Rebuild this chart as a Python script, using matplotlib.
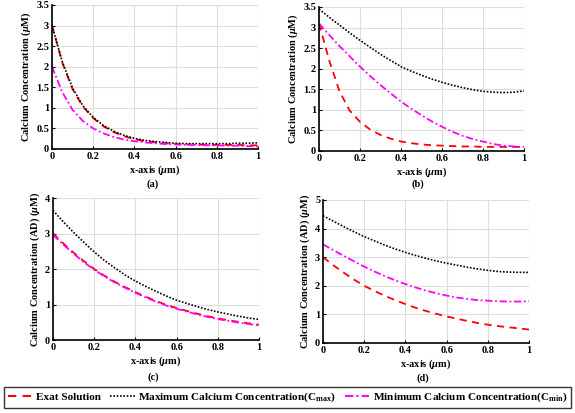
import matplotlib
matplotlib.use("Agg")
import matplotlib.pyplot as plt
from matplotlib.lines import Line2D

plt.rcParams['font.family'] = ['Liberation Serif', 'DejaVu Serif']
plt.rcParams['font.weight'] = 'bold'
plt.rcParams['mathtext.fontset'] = 'custom'
plt.rcParams['mathtext.rm'] = 'Liberation Serif:bold'
plt.rcParams['mathtext.it'] = 'Liberation Serif:italic:bold'
plt.rcParams['mathtext.bf'] = 'Liberation Serif:bold'

x = [0, .05, .1, .15, .2, .25, .3, .35, .4, .45, .5,
     .55, .6, .65, .7, .75, .8, .85, .9, .95, 1]

# panel (a)
a_exact = [3.00, 2.10, 1.45, 1.03, 0.75, 0.55, 0.41, 0.31, 0.24, 0.19, 0.16,
           0.14, 0.12, 0.11, 0.11, 0.10, 0.10, 0.10, 0.10, 0.09, 0.09]
a_max = [3.00, 2.12, 1.48, 1.05, 0.77, 0.57, 0.43, 0.33, 0.26, 0.21, 0.18,
         0.16, 0.14, 0.13, 0.13, 0.13, 0.13, 0.13, 0.14, 0.14, 0.15]
a_min = [2.00, 1.38, 0.95, 0.68, 0.50, 0.38, 0.29, 0.23, 0.19, 0.16, 0.14,
         0.12, 0.11, 0.10, 0.10, 0.09, 0.09, 0.08, 0.08, 0.07, 0.06]

# panel (b)
b_exact = [3.10, 2.20, 1.45, 0.98, 0.71, 0.52, 0.39, 0.30, 0.23, 0.19, 0.16,
           0.14, 0.13, 0.12, 0.11, 0.11, 0.10, 0.10, 0.10, 0.10, 0.10]
b_max = [3.45, 3.25, 3.06, 2.87, 2.69, 2.52, 2.35, 2.20, 2.05, 1.94, 1.84,
         1.75, 1.67, 1.60, 1.54, 1.49, 1.45, 1.43, 1.42, 1.43, 1.46]
b_min = [3.10, 2.82, 2.55, 2.30, 2.05, 1.82, 1.60, 1.40, 1.20, 1.03, 0.87,
         0.72, 0.59, 0.47, 0.37, 0.29, 0.23, 0.17, 0.13, 0.11, 0.10]

# panel (c)
c_exact = [3.00, 2.72, 2.46, 2.22, 2.00, 1.81, 1.64, 1.49, 1.35, 1.22, 1.10,
           0.99, 0.90, 0.82, 0.74, 0.67, 0.61, 0.56, 0.51, 0.47, 0.43]
c_max = [3.65, 3.33, 3.03, 2.75, 2.48, 2.24, 2.03, 1.83, 1.66, 1.51, 1.37,
         1.24, 1.12, 1.03, 0.94, 0.86, 0.79, 0.73, 0.67, 0.62, 0.58]
c_min = [2.96, 2.69, 2.43, 2.19, 1.98, 1.79, 1.62, 1.47, 1.33, 1.20, 1.08,
         0.97, 0.88, 0.80, 0.72, 0.65, 0.59, 0.54, 0.49, 0.45, 0.41]

# panel (d)
d_exact = [3.00, 2.72, 2.46, 2.22, 2.00, 1.82, 1.65, 1.50, 1.36, 1.23, 1.12,
           1.02, 0.93, 0.85, 0.77, 0.70, 0.64, 0.59, 0.55, 0.51, 0.47]
d_max = [4.45, 4.26, 4.07, 3.89, 3.72, 3.57, 3.42, 3.29, 3.17, 3.06, 2.96,
         2.87, 2.79, 2.72, 2.65, 2.59, 2.54, 2.50, 2.48, 2.47, 2.47]
d_min = [3.45, 3.25, 3.05, 2.86, 2.67, 2.50, 2.34, 2.19, 2.06, 1.94, 1.83,
         1.74, 1.66, 1.59, 1.54, 1.50, 1.48, 1.46, 1.45, 1.45, 1.46]

xticks = [0, 0.2, 0.4, 0.6, 0.8, 1]
xticklabels = ['0', '0.2', '0.4', '0.6', '0.8', '1']
ab_yticks = [0, 0.5, 1, 1.5, 2, 2.5, 3, 3.5]
ab_yticklabels = ['0', '0.5', '1', '1.5', '2', '2.5', '3', '3.5']
c_yticks = [0, 1, 2, 3, 4]
d_yticks = [0, 1, 2, 3, 4, 5]

ylab1 = r'Calcium Concentration ($\mu$M)'
ylab2 = r'Calcium Concentration (AD) ($\mu$M)'
xlab = r'x-axis ($\mu$m)'

labels = ['Exat Solution',
          r'Maximum Calcium Concentration(C$_{\mathrm{max}}$)',
          r'Minimum Calcium Concentration(C$_{\mathrm{min}}$)']

fig = plt.figure(figsize=(5.75, 4.13), dpi=100)

panels = [
    ([52, 149, 206, 144], a_exact, a_max, a_min, ab_yticks, ab_yticklabels, 3.5, ylab1, '(a)', (153, 184)),
    ([319, 151, 205, 144], b_exact, b_max, b_min, ab_yticks, ab_yticklabels, 3.5, ylab1, '(b)', (418, 184)),
    ([53, 340, 206, 142], c_exact, c_max, c_min, c_yticks, [str(t) for t in c_yticks], 4, ylab2, '(c)', (153, 377)),
    ([323, 343, 206, 143], d_exact, d_max, d_min, d_yticks, [str(t) for t in d_yticks], 5, ylab2, '(d)', (423, 378)),
]

W, H = 575.0, 413.0
for box, ex, mx, mn, yt, ytl, ytop, ylab, cap, cpos in panels:
    l, b, w, h = box
    ax = fig.add_axes([l / W, 1 - b / H, w / W, h / H])
    ax.plot(x, ex, color='red', linestyle=(0, (4, 3)), linewidth=1.3)
    ax.plot(x, mx, color='black', linestyle=(0, (1, 1)), linewidth=1.2)
    ax.plot(x, mn, color='magenta', linestyle=(0, (4, 1.5, 1, 1.5)), linewidth=1.3)
    ax.set_xlim(0, 1)
    ax.set_ylim(0, ytop)
    ax.set_xticks(xticks)
    ax.set_xticklabels(xticklabels)
    ax.set_yticks(yt)
    ax.set_yticklabels(ytl)
    ax.grid(color='#dddddd', linewidth=0.8)
    ax.set_axisbelow(True)
    for s in ['top', 'right']:
        ax.spines[s].set_visible(False)
    for s in ['left', 'bottom']:
        ax.spines[s].set_linewidth(1.2)
    ax.tick_params(direction='in', length=2, labelsize=7.5, pad=2)
    ax.set_xlabel(xlab, fontsize=7.5, fontweight='bold', labelpad=2)
    ax.set_ylabel(ylab, fontsize=7.5, fontweight='bold', labelpad=2)
    fig.text(cpos[0] / W, 1 - cpos[1] / H, cap, fontsize=7.5, fontweight='bold',
             ha='center', va='center')

handles = [Line2D([], [], color='red', linestyle=(0, (4, 3)), linewidth=1.5),
           Line2D([], [], color='black', linestyle=(0, (1, 1)), linewidth=1.2),
           Line2D([], [], color='magenta', linestyle=(0, (4, 1.5, 1, 1.5)), linewidth=1.5)]
leg = fig.legend(handles, labels, loc='center', ncol=3,
                 bbox_to_anchor=(287.5 / W, 1 - 397.5 / H),
                 prop={'family': 'Liberation Serif', 'weight': 'bold', 'size': 8.1},
                 frameon=True, fancybox=False, edgecolor='black',
                 handlelength=2.2, handletextpad=0.3, columnspacing=0.8,
                 borderpad=0.35, borderaxespad=0)
leg.get_frame().set_linewidth(1.0)

fig.savefig('out.png', dpi=100)
